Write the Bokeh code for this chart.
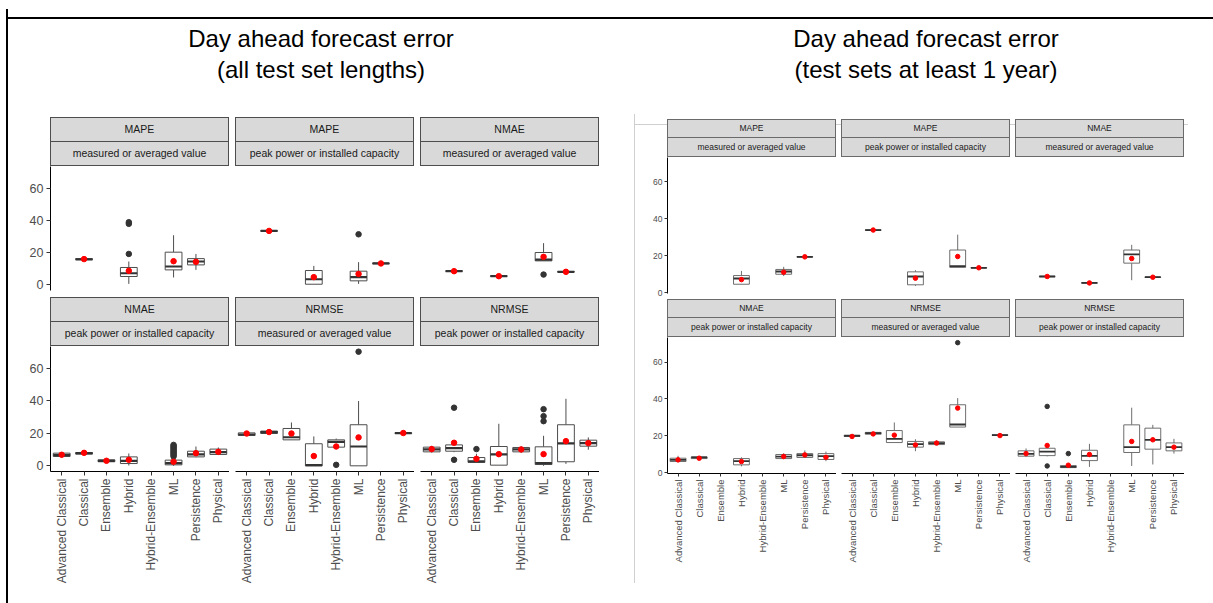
import math
from bokeh.plotting import figure
from bokeh.models import (ColumnDataSource, FactorRange, Range1d, FixedTicker,
                          Div, Spacer)
from bokeh.layouts import row, column
from bokeh.embed import file_html
from bokeh.resources import INLINE

CATS = ["Advanced Classical", "Classical", "Ensemble", "Hybrid",
        "Hybrid-Ensemble", "ML", "Persistence", "Physical"]
METRICS = ["MAPE", "MAPE", "NMAE", "NMAE", "NRMSE", "NRMSE"]
NORMS = ["measured or averaged value", "peak power or installed capacity",
         "measured or averaged value", "peak power or installed capacity",
         "measured or averaged value", "peak power or installed capacity"]
Y_TICKS = [0, 20, 40, 60]
TITLE_A = ["Day ahead forecast error", "(all test set lengths)"]
TITLE_B = ["Day ahead forecast error", "(test sets at least 1 year)"]

# rows: (category, lower whisker, q1, median, q3, upper whisker, mean)
# ---- all test set lengths ----
A_MAPE_meas = [("Classical", 15.4, 15.5, 15.9, 16.3, 16.4, 16.0),
               ("Hybrid", 0.6, 5.2, 7.2, 10.8, 14.5, 8.7),
               ("ML", 4.6, 9.3, 11.4, 20.3, 30.8, 14.7),
               ("Persistence", 9.3, 12.4, 14.5, 16.3, 19.2, 14.3)]
A_MAPE_meas_out = [("Hybrid", 19.2), ("Hybrid", 37.9), ("Hybrid", 38.9)]
A_MAPE_peak = [("Classical", 33.2, 33.3, 33.5, 33.7, 33.8, 33.5),
               ("Hybrid", 0.4, 0.4, 3.5, 8.9, 11.8, 4.8),
               ("ML", 0.6, 2.5, 4.8, 8.5, 14.1, 6.8),
               ("Persistence", 13.0, 13.1, 13.3, 13.5, 13.6, 13.3)]
A_MAPE_peak_out = [("ML", 31.4)]
A_NMAE_meas = [("Classical", 8.3, 8.4, 8.5, 8.7, 8.8, 8.5),
               ("Hybrid", 5.2, 5.3, 5.4, 5.6, 5.7, 5.4),
               ("ML", 14.9, 14.9, 15.7, 20.1, 25.9, 17.4),
               ("Persistence", 7.9, 8.0, 8.1, 8.3, 8.4, 8.1)]
A_NMAE_meas_out = [("ML", 6.4)]
A_NMAE_peak = [("Advanced Classical", 5.3, 5.75, 6.6, 7.8, 8.2, 6.8),
               ("Classical", 7.0, 7.2, 7.8, 8.2, 8.4, 8.0),
               ("Ensemble", 2.4, 2.5, 3.1, 3.7, 3.8, 3.1),
               ("Hybrid", 0.2, 1.4, 3.1, 5.5, 7.6, 3.7),
               ("ML", 0.0, 0.6, 1.6, 3.5, 5.0, 2.5),
               ("Persistence", 5.3, 5.5, 7.0, 9.0, 11.9, 7.8),
               ("Physical", 6.8, 7.0, 8.4, 10.3, 11.3, 8.6)]
A_NMAE_peak_out = [("ML", 5.8), ("ML", 6.6), ("ML", 7.4), ("ML", 8.2),
                   ("ML", 9.0), ("ML", 9.8), ("ML", 10.6), ("ML", 11.4),
                   ("ML", 12.2), ("ML", 12.9)]
A_NRMSE_meas = [("Advanced Classical", 18.5, 18.7, 19.3, 20.3, 20.5, 19.9),
                ("Classical", 19.8, 19.9, 20.8, 21.4, 21.5, 20.8),
                ("Ensemble", 16.0, 16.0, 17.6, 23.0, 26.7, 19.9),
                ("Hybrid", 0.0, 0.0, 0.4, 13.6, 18.1, 6.0),
                ("Hybrid-Ensemble", 11.5, 11.5, 14.8, 16.0, 16.8, 11.9),
                ("ML", 0.0, 0.0, 11.9, 25.3, 39.9, 17.5),
                ("Physical", 19.8, 19.9, 20.1, 20.3, 20.4, 20.2)]
A_NRMSE_meas_out = [("Hybrid-Ensemble", 0.6), ("ML", 70.3)]
A_NRMSE_peak = [("Advanced Classical", 8.2, 8.6, 10.1, 11.5, 12.3, 10.3),
                ("Classical", 8.4, 9.0, 10.9, 12.9, 13.6, 14.2),
                ("Ensemble", 2.1, 2.1, 2.7, 5.1, 7.4, 4.3),
                ("Hybrid", 0.4, 0.4, 7.0, 11.9, 25.9, 7.2),
                ("Hybrid-Ensemble", 8.2, 8.6, 10.1, 11.3, 12.1, 10.1),
                ("ML", 0.0, 0.8, 1.6, 11.7, 18.5, 7.2),
                ("Persistence", 1.2, 2.5, 13.8, 25.3, 41.3, 15.2),
                ("Physical", 9.9, 12.1, 14.0, 15.8, 17.5, 14.0)]
A_NRMSE_peak_out = [("Classical", 35.8), ("Classical", 3.7), ("Ensemble", 10.3),
                    ("ML", 27.5), ("ML", 30.6), ("ML", 34.9)]

# ---- test sets at least 1 year ----
B_MAPE_meas = [("Hybrid", 4.5, 4.5, 7.6, 9.2, 11.7, 7.0),
               ("ML", 8.9, 9.9, 11.4, 12.5, 13.9, 11.0),
               ("Persistence", 19.1, 19.2, 19.3, 19.4, 19.5, 19.3)]
B_MAPE_meas_out = []
B_MAPE_peak = [("Classical", 33.6, 33.7, 33.8, 33.9, 34.0, 33.8),
               ("Hybrid", 3.6, 4.2, 8.7, 11.2, 12.1, 7.8),
               ("ML", 13.6, 13.6, 14.3, 23.0, 31.3, 19.5),
               ("Persistence", 13.2, 13.3, 13.4, 13.5, 13.6, 13.4)]
B_MAPE_peak_out = []
B_NMAE_meas = [("Classical", 8.5, 8.6, 8.7, 8.8, 8.9, 8.7),
               ("Hybrid", 5.0, 5.1, 5.2, 5.3, 5.4, 5.2),
               ("ML", 6.7, 15.9, 20.6, 23.0, 25.8, 18.4),
               ("Persistence", 8.1, 8.2, 8.3, 8.4, 8.5, 8.3)]
B_NMAE_meas_out = []
B_NMAE_peak = [("Advanced Classical", 5.6, 6.0, 6.9, 7.8, 9.1, 6.9),
               ("Classical", 7.5, 7.6, 8.2, 8.5, 8.6, 7.8),
               ("Hybrid", 3.4, 4.2, 6.2, 7.6, 8.3, 6.0),
               ("ML", 7.4, 7.6, 8.7, 9.8, 10.5, 8.7),
               ("Persistence", 8.0, 8.2, 9.4, 10.3, 12.0, 9.6),
               ("Physical", 6.2, 7.1, 8.9, 10.3, 11.4, 8.3)]
B_NMAE_peak_out = []
B_NRMSE_meas = [("Advanced Classical", 19.5, 19.6, 19.9, 20.3, 20.4, 19.6),
                ("Classical", 20.7, 20.8, 21.4, 21.8, 21.9, 21.0),
                ("Ensemble", 16.3, 16.3, 18.3, 22.8, 27.2, 20.3),
                ("Hybrid", 11.6, 13.8, 15.4, 16.9, 18.1, 15.0),
                ("Hybrid-Ensemble", 15.1, 15.2, 16.0, 16.7, 17.4, 16.0),
                ("ML", 24.7, 24.7, 26.1, 36.8, 40.4, 35.0),
                ("Physical", 20.1, 20.2, 20.3, 20.5, 20.6, 20.1)]
B_NRMSE_meas_out = [("ML", 70.5)]
B_NRMSE_peak = [("Advanced Classical", 8.6, 8.9, 10.2, 11.8, 13.1, 10.3),
                ("Classical", 8.8, 9.2, 11.4, 13.2, 13.6, 14.7),
                ("Ensemble", 2.6, 2.7, 3.1, 3.8, 4.0, 4.0),
                ("Hybrid", 3.1, 6.5, 9.1, 12.1, 15.6, 9.8),
                ("ML", 3.6, 10.9, 13.8, 25.9, 35.2, 16.9),
                ("Persistence", 4.4, 12.7, 17.8, 24.1, 25.9, 17.8),
                ("Physical", 10.3, 11.8, 13.8, 16.1, 18.3, 13.8)]
B_NRMSE_peak_out = [("Classical", 35.9), ("Classical", 3.6), ("Ensemble", 10.3)]

A_FACETS = [A_MAPE_meas, A_MAPE_peak, A_NMAE_meas, A_NMAE_peak, A_NRMSE_meas, A_NRMSE_peak]
A_OUTS = [A_MAPE_meas_out, A_MAPE_peak_out, A_NMAE_meas_out, A_NMAE_peak_out,
          A_NRMSE_meas_out, A_NRMSE_peak_out]
B_FACETS = [B_MAPE_meas, B_MAPE_peak, B_NMAE_meas, B_NMAE_peak, B_NRMSE_meas, B_NRMSE_peak]
B_OUTS = [B_MAPE_meas_out, B_MAPE_peak_out, B_NMAE_meas_out, B_NMAE_peak_out,
          B_NRMSE_meas_out, B_NRMSE_peak_out]

FONT = "Liberation Sans"
CSS_FONT = "'Liberation Sans', Arial, sans-serif"


def html_box(w, h, inner="", style=""):
    st = f"width:{w}px;height:{h}px;box-sizing:border-box;{style}"
    return Div(text=f'<div style="{st}">{inner}</div>', width=w, height=h, margin=0)


def strip(text, w, h, fs, bc, top=True):
    style = (f"background:#D9D9D9;border:1px solid {bc};" + ("" if top else "border-top:none;") +
             f"text-align:center;line-height:{h - (2 if top else 1)}px;font-family:{CSS_FONT};"
             f"font-size:{fs}px;color:#1A1A1A;white-space:nowrap;overflow:hidden;")
    return html_box(w, h, text, style)


def facet(rows, outs, yr, w, h, ml, mb, show_y, show_x, st):
    p = figure(x_range=FactorRange(factors=CATS), y_range=Range1d(*yr),
               width=w, height=h, min_border_left=ml, min_border_right=0,
               min_border_top=0, min_border_bottom=mb,
               output_backend="svg", toolbar_location=None, tools="")
    p.outline_line_color = None
    p.xgrid.visible = False
    p.ygrid.visible = False
    p.background_fill_color = "white"
    p.border_fill_color = "white"
    for ax in (p.xaxis[0], p.yaxis[0]):
        ax.axis_line_color = "black"
        ax.axis_line_width = 1
        ax.major_tick_line_color = "#333333"
        ax.major_tick_in = 0
        ax.major_tick_out = st["tick"]
        ax.minor_tick_out = 0
        ax.minor_tick_in = 0
        ax.major_label_text_color = "#4D4D4D"
        ax.major_label_text_font = FONT
    p.yaxis.ticker = FixedTicker(ticks=Y_TICKS)
    p.yaxis.major_label_text_font_size = st["yfs"]
    p.yaxis.major_label_standoff = st["ystand"]
    p.xaxis.major_label_text_font_size = st["xfs"]
    p.xaxis.major_label_orientation = math.pi / 2
    p.xaxis.major_label_standoff = 3
    p.yaxis.visible = show_y
    p.xaxis.visible = show_x

    src = ColumnDataSource(dict(cat=[r[0] for r in rows], lo=[r[1] for r in rows],
                                q1=[r[2] for r in rows], med=[r[3] for r in rows],
                                q3=[r[4] for r in rows], hi=[r[5] for r in rows],
                                mean=[r[6] for r in rows]))
    lc = st["lc"]
    p.segment(x0="cat", y0="q3", x1="cat", y1="hi", source=src, line_color=lc, line_width=st["lw"])
    p.segment(x0="cat", y0="q1", x1="cat", y1="lo", source=src, line_color=lc, line_width=st["lw"])
    p.vbar(x="cat", bottom="q1", top="q3", width=0.75, source=src, fill_color="white",
           line_color=lc, line_width=st["lw"])
    p.vbar(x="cat", bottom="med", top="med", width=0.75, source=src, fill_alpha=0,
           line_color="#333333", line_width=st["mw"])
    if outs:
        p.scatter(x=[o[0] for o in outs], y=[o[1] for o in outs], size=st["os"],
                  fill_color="#333333", line_color="#333333")
    p.scatter(x="cat", y="mean", source=src, size=st["ms"], fill_color="red", line_color="red")
    return p


def panel_grid(facets, outs, geo, st):
    rows_ = []
    for r in range(2):
        cells = []
        for c in range(3):
            k = r * 3 + c
            left = c == 0
            ml = geo["axis_w"] if left else 0
            mb = geo["bottom"][r]
            h = geo["frame_h"][r] + mb
            fig = facet(facets[k], outs[k], geo["yr"][r], ml + geo["fw"], h, ml,
                        mb, left, r == 1, st)
            s = column(strip(METRICS[k], geo["fw"], geo["sh"][0], st["sfs"], st["bc"]),
                       strip(NORMS[k], geo["fw"], geo["sh"][1], st["sfs"], st["bc"], top=False))
            if left:
                s = row(Spacer(width=ml, height=sum(geo["sh"])), s)
            cells.append(column(s, fig))
            if c < 2:
                cells.append(Spacer(width=geo["gap"], height=10))
        rows_.append(row(*cells))
        if r == 0 and geo["vgap"] > 0:
            rows_.append(Spacer(width=10, height=geo["vgap"]))
    return rows_


def title_div(lines, w, h):
    style = (f"text-align:center;font-family:{CSS_FONT};font-size:24px;line-height:31px;"
             f"color:#000000;padding-top:14px;white-space:nowrap;")
    return html_box(w, h, "<br>".join(lines), style)


STYLE_A = dict(tick=4, yfs="12.5px", xfs="12px", ystand=3, lc="#4D4D4D", lw=1, mw=2.2,
               os=5.5, ms=5.5, sfs=10.5, bc="#4D4D4D")
STYLE_B = dict(tick=3, yfs="8.5px", xfs="9.5px", ystand=2, lc="#5E5E5E", lw=0.9, mw=1.8,
               os=4.5, ms=4.5, sfs=8.5, bc="#6A6A6A")
GEO_A = dict(axis_w=42, fw=179, gap=6, vgap=1, sh=(25, 24), frame_h=(124, 125),
             bottom=(6, 129), yr=((-3.5, 73.5), (-3.5, 73.5)))
GEO_B = dict(axis_w=32, fw=169, gap=5, vgap=0, sh=(19, 19), frame_h=(136, 136),
             bottom=(6, 110), yr=((-0.5, 73.0), (-0.5, 73.3)))

left_panel = column(title_div(TITLE_A, 626, 108), *panel_grid(A_FACETS, A_OUTS, GEO_A, STYLE_A))

gray = "#CFCFCF"
inner_b = column(Spacer(width=10, height=5), *panel_grid(B_FACETS, B_OUTS, GEO_B, STYLE_B))
box_b = column(html_box(554, 1, "", f"background:{gray};"),
               row(html_box(1, 469, "", f"background:{gray};"), inner_b))
right_panel = column(row(Spacer(width=30, height=104), title_div(TITLE_B, 524, 104)), box_b)

framed = column(html_box(1207, 2, "", "background:#000000;"),
                row(html_box(2, 594, "", "background:#000000;"), left_panel, right_panel))
root = column(Spacer(width=10, height=7), row(Spacer(width=6, height=10), framed))

open("out.html", "w").write(file_html(root, INLINE))
